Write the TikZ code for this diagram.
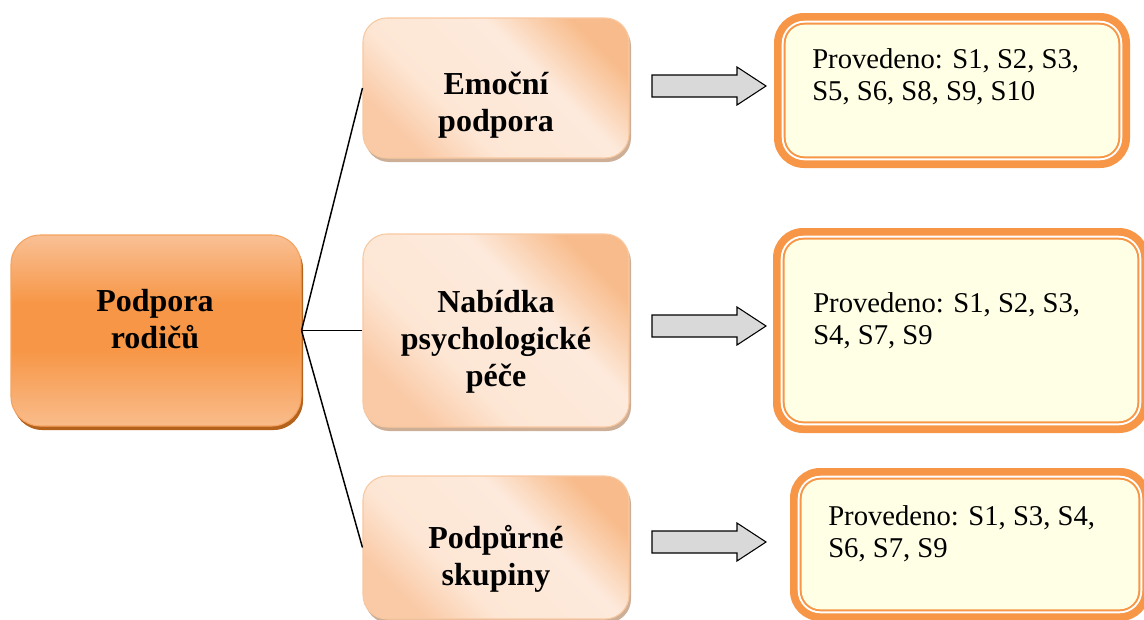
\documentclass[tikz,border=0pt]{standalone}
\usepackage{fontspec}
\setmainfont{Liberation Serif}
\usetikzlibrary{shadows}
\definecolor{orgmain}{HTML}{F79646}
\definecolor{orgtop}{HTML}{F9C095}
\definecolor{orgbot}{HTML}{F9BC8B}
\definecolor{orgedge}{HTML}{F5A35F}
\definecolor{orgshadow}{HTML}{B5621C}
\definecolor{peachA}{HTML}{FAC9A5}
\definecolor{peachB}{HTML}{FDE6D4}
\definecolor{peachC}{HTML}{FDEADC}
\definecolor{peachD}{HTML}{F8BC8C}
\definecolor{peachedge}{HTML}{F8C8A0}
\definecolor{peachshadow}{HTML}{CDAF98}
\definecolor{notefill}{HTML}{FFFFE5}
\definecolor{arrowgray}{HTML}{D9D9D9}
\pgfdeclareverticalshading{mainshade}{100bp}{color(0bp)=(orgbot); color(25bp)=(orgbot); color(45bp)=(orgmain); color(57bp)=(orgmain); color(75bp)=(orgtop); color(100bp)=(orgtop)}
\pgfdeclarehorizontalshading{peachshade}{100bp}{color(0bp)=(peachA); color(25bp)=(peachA); color(38bp)=(peachB); color(60bp)=(peachC); color(75bp)=(peachD); color(100bp)=(peachD)}
\tikzset{
  mainbox/.style={rectangle, rounded corners=22pt, minimum width=217.5pt, minimum height=143.25pt, draw=orgedge, line width=0.8pt, shade, shading=mainshade, drop shadow={shadow xshift=1.5pt, shadow yshift=-3pt, fill=orgshadow, opacity=1}},
  subbox/.style={rectangle, rounded corners=18pt, minimum width=199.5pt, draw=peachedge, line width=0.8pt, shade, shading=peachshade, shading angle=45, drop shadow={shadow xshift=1.5pt, shadow yshift=-3pt, fill=peachshadow, opacity=1}},
  boldtext/.style={font=\fontsize{24}{27.75}\selectfont\bfseries, align=center, inner sep=0pt, anchor=north},
  notebox/.style={rectangle, rounded corners=22.5pt, fill=orgmain, inner sep=0pt},
  notetext/.style={font=\fontsize{21.5}{24}\selectfont, align=left, inner sep=0pt, anchor=north west},
  link/.style={draw=black, line width=1.1pt},
  fatarrow/.pic={\draw[fill=arrowgray, draw=black, line width=0.8pt, line join=miter] (0,-11) -- (85,-11) -- (85,-19) -- (114,0) -- (85,19) -- (85,11) -- (0,11) -- cycle;}
}
\begin{document}
\begin{tikzpicture}[x=0.75pt,y=-0.75pt]
\useasboundingbox (0,0) rectangle (1144,619);
\clip (0,0) rectangle (1144,619);

% left main box
\node[mainbox] (main) at (156,330.5) {};
\node[boldtext] (tmain) at (155,288.6) {Podpora\\rodičů};

% middle boxes
\node[subbox, minimum height=105pt] (emo) at (496,88) {};
\node[boldtext] (temo) at (496,71.6) {Emoční\\podpora};
\node[subbox, minimum height=144.75pt] (nab) at (496,330.5) {};
\node[boldtext] (tnab) at (496,289.6) {Nabídka\\psychologické\\péče};
\node[subbox, minimum height=107.25pt] (sku) at (496,547.5) {};
\node[boldtext] (tsku) at (496,524.6) {Podpůrné\\skupiny};

% connectors
\draw[link] (main.east) -- (emo.west);
\draw[link] (main.east) -- (nab.west);
\draw[link] (main.east) -- (sku.west);

% arrows
\pic at (652,86) {fatarrow};
\pic at (652,326) {fatarrow};
\pic at (652,542) {fatarrow};

% right boxes
\node[notebox, minimum width=267pt, minimum height=116.25pt] (r1) at (952,90.5) {};
\node[notebox, minimum width=282pt, minimum height=153.75pt] (r2) at (961,330.5) {};
\node[notebox, minimum width=270pt, minimum height=114.75pt] (r3) at (970,544.5) {};
\foreach \b in {r1,r2,r3}{
  \fill[white, rounded corners=17pt] ([shift={(8,8)}]\b.north west) rectangle ([shift={(-8,-8)}]\b.south east);
  \fill[orgmain, rounded corners=15.5pt] ([shift={(10,10)}]\b.north west) rectangle ([shift={(-10,-10)}]\b.south east);
  \fill[notefill, rounded corners=14pt] ([shift={(12,12)}]\b.north west) rectangle ([shift={(-12,-12)}]\b.south east);
}
\node[notetext] (t1) at (812,48.2) {Provedeno: S1, S2, S3,\\S5, S6, S8, S9, S10};
\node[notetext] (t2) at (813,292.2) {Provedeno: S1, S2, S3,\\S4, S7, S9};
\node[notetext] (t3) at (828,505.2) {Provedeno: S1, S3, S4,\\S6, S7, S9};
\end{tikzpicture}
\end{document}
